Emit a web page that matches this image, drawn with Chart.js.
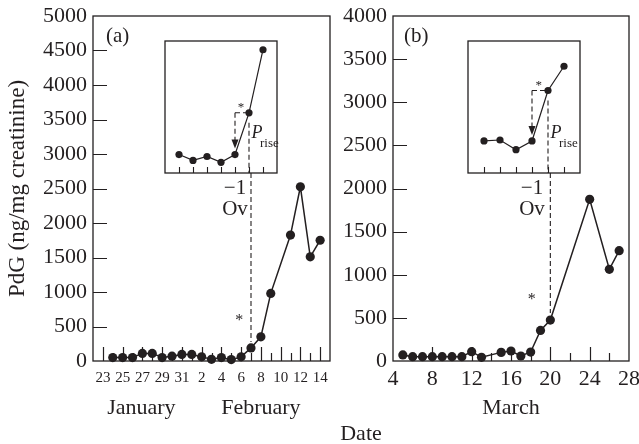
<!DOCTYPE html>
<html>
<head>
<meta charset="utf-8">
<script src="https://cdn.jsdelivr.net/npm/chart.js@4.4.1/dist/chart.umd.min.js"></script>
<style>
  html, body { margin: 0; padding: 0; background: #fff; }
  #wrap { position: relative; width: 639px; height: 444px; }
  canvas { position: absolute; }
</style>
</head>
<body>
<div id="wrap">
  <canvas id="chartA" width="639" height="444" style="left:0;top:0"></canvas>
  <canvas id="chartB" width="639" height="444" style="left:0;top:0"></canvas>
  <canvas id="insetA" width="120" height="190" style="left:161px;top:37px"></canvas>
  <canvas id="insetB" width="120" height="190" style="left:464px;top:37px"></canvas>
</div>
<script>
  const FONT = "'Liberation Serif', 'DejaVu Serif', serif";
  const INK = '#231f20';

  // Panel (a): days counted from 1 January (1 February = 32)
  const daysA = [24, 25, 26, 27, 28, 29, 30, 31, 32, 33, 34, 35, 36, 37, 38, 39, 40, 42, 43, 44, 45];
  const pdgA = [50, 50, 50, 110, 110, 50, 70, 95, 95, 60, 25, 50, 20, 60, 190, 350, 980, 1825, 2525, 1510, 1750];
  const tickDaysA = [23, 25, 27, 29, 31, 33, 35, 37, 39, 41, 43, 45];
  const tickLabelsA = ['23', '25', '27', '29', '31', '2', '4', '6', '8', '10', '12', '14'];
  const monthsA = ['January', 'February'];

  // Panel (b): days of March
  const daysB = [5, 6, 7, 8, 9, 10, 11, 12, 13, 15, 16, 17, 18, 19, 20, 24, 26, 27];
  const pdgB = [70, 50, 50, 50, 50, 50, 50, 108, 43, 100, 116, 58, 104, 355, 475, 1875, 1063, 1279];
  const tickDaysB = [4, 8, 12, 16, 20, 24, 28];
  const monthsB = ['March'];

  // Insets: days relative to the progesterone rise (0), relative PdG level
  const insetDaysA = [-5, -4, -3, -2, -1, 0, 1];
  const insetA = [19, 13, 17, 11, 19, 62, 127];
  const insetDaysB = [-4, -3, -2, -1, 0, 1];
  const insetB = [33, 34, 24, 33, 85, 110];

  const INSET_BOTTOM = 37 + 136;

  function drawFrame(chart) {
    const { ctx, chartArea: a } = chart;
    ctx.save();
    ctx.strokeStyle = INK;
    ctx.lineWidth = 1.3;
    ctx.strokeRect(a.left, a.top, a.right - a.left, a.bottom - a.top);
    ctx.restore();
  }

  // tick marks drawn on the inside of the frame
  function drawTicks(chart, isLong, yTicks) {
    const { ctx, chartArea: a, scales: { x, y } } = chart;
    ctx.save();
    ctx.strokeStyle = INK;
    ctx.lineWidth = 1.2;
    ctx.beginPath();
    x.ticks.forEach(t => {
      if (t.value <= x.min || t.value >= x.max) return;
      const px = Math.round(x.getPixelForValue(t.value)) + 0.5;
      ctx.moveTo(px, a.bottom);
      ctx.lineTo(px, a.bottom - (isLong(t.value) ? 14 : 8));
    });
    if (yTicks) {
      y.ticks.forEach(t => {
        if (t.value <= y.min || t.value >= y.max) return;
        const py = Math.round(y.getPixelForValue(t.value)) + 0.5;
        ctx.moveTo(a.left, py);
        ctx.lineTo(a.left + 14, py);
      });
    }
    ctx.stroke();
    ctx.restore();
  }

  function text(ctx, str, x, y, size, align, style) {
    ctx.save();
    ctx.fillStyle = INK;
    ctx.font = (style || '') + ' ' + size + 'px ' + FONT;
    ctx.textAlign = align || 'center';
    ctx.textBaseline = 'alphabetic';
    ctx.fillText(str, x, y);
    ctx.restore();
  }

  function star(ctx, x, y, size) {
    text(ctx, '*', x, y + size * 0.5, size);
  }

  function dashed(ctx, x1, y1, x2, y2) {
    ctx.save();
    ctx.strokeStyle = INK;
    ctx.lineWidth = 1.1;
    ctx.setLineDash([5, 3]);
    ctx.beginPath();
    ctx.moveTo(x1, y1);
    ctx.lineTo(x2, y2);
    ctx.stroke();
    ctx.restore();
  }

  function mainOptions(cfg) {
    return {
      responsive: false,
      animation: false,
      events: [],
      layout: { padding: cfg.padding },
      plugins: { legend: { display: false }, tooltip: { enabled: false } },
      scales: {
        x: {
          type: 'linear',
          min: cfg.xMin,
          max: cfg.xMax,
          afterBuildTicks: s => {
            const t = [];
            for (let v = cfg.xMin + cfg.step; v < cfg.xMax; v += cfg.step) t.push({ value: v });
            if (cfg.edgeLabels) { t.unshift({ value: cfg.xMin }); t.push({ value: cfg.xMax }); }
            s.ticks = t;
          },
          ticks: {
            autoSkip: false,
            maxRotation: 0,
            color: INK,
            font: { family: FONT, size: cfg.xFont },
            padding: cfg.xPad,
            callback: cfg.xLabel
          },
          grid: { display: false, drawTicks: false },
          border: { display: false },
          afterFit: s => { s.height = 30; s.paddingLeft = 0; s.paddingRight = 0; }
        },
        y: {
          min: 0,
          max: cfg.yMax,
          afterBuildTicks: s => {
            const t = [];
            for (let v = 0; v <= cfg.yMax; v += 500) t.push({ value: v });
            s.ticks = t;
          },
          ticks: {
            color: INK,
            font: { family: FONT, size: 22 },
            padding: 6,
            callback: v => String(v)
          },
          grid: { display: false, drawTicks: false },
          border: { display: false },
          title: cfg.title,
          afterFit: s => { s.width = cfg.yWidth; s.paddingTop = 0; s.paddingBottom = 0; }
        }
      }
    };
  }

  function mainDataset(days, vals) {
    return [{
      data: days.map((d, i) => ({ x: d, y: vals[i] })),
      borderColor: INK,
      backgroundColor: INK,
      borderWidth: 1.5,
      pointRadius: 4.6,
      pointBackgroundColor: INK,
      pointBorderWidth: 0,
      tension: 0,
      clip: false
    }];
  }

  // Panel (a)
  const chartA = new Chart(document.getElementById('chartA'), {
    type: 'line',
    data: { datasets: mainDataset(daysA, pdgA) },
    options: mainOptions({
      padding: { left: 0, top: 16, right: 309, bottom: 53 },
      xMin: 22, xMax: 46, step: 1,
      xFont: 15, xPad: 8,
      xLabel: v => { const i = tickDaysA.indexOf(v); return i >= 0 ? tickLabelsA[i] : ''; },
      yMax: 5000, yWidth: 93,
      title: {
        display: true,
        text: 'PdG (ng/mg creatinine)',
        color: INK,
        font: { family: FONT, size: 23 },
        padding: { top: 4, bottom: 0 }
      }
    }),
    plugins: [{
      id: 'decorA',
      beforeDatasetsDraw(chart) {
        drawFrame(chart);
        drawTicks(chart, v => tickDaysA.includes(v), true);
      },
      afterDatasetsDraw(chart) {
        const { ctx, chartArea: a, scales: { x, y } } = chart;
        text(ctx, '(a)', a.left + 13, a.top + 26, 21, 'left');
        text(ctx, monthsA[0], x.getPixelForValue(26.9), 414, 22);
        text(ctx, monthsA[1], x.getPixelForValue(39), 414, 22);
        const px = x.getPixelForValue(38);
        dashed(ctx, px, INSET_BOTTOM, px, y.getPixelForValue(pdgA[daysA.indexOf(38)]) - 6);
        star(ctx, x.getPixelForValue(36.8), y.getPixelForValue(640), 16);
      }
    }]
  });

  // Panel (b)
  new Chart(document.getElementById('chartB'), {
    type: 'line',
    data: { datasets: mainDataset(daysB, pdgB) },
    options: mainOptions({
      padding: { left: 335, top: 16, right: 10, bottom: 53 },
      xMin: 4, xMax: 28, step: 2, edgeLabels: true,
      xFont: 22, xPad: 5,
      xLabel: v => tickDaysB.includes(v) ? String(v) : '',
      yMax: 4000, yWidth: 58,
      title: { display: false }
    }),
    plugins: [{
      id: 'decorB',
      beforeDatasetsDraw(chart) {
        drawFrame(chart);
        drawTicks(chart, v => tickDaysB.includes(v), true);
      },
      afterDatasetsDraw(chart) {
        const { ctx, chartArea: a, scales: { x, y } } = chart;
        text(ctx, '(b)', a.left + 11, a.top + 26, 21, 'left');
        text(ctx, monthsB[0], x.getPixelForValue(16), 414, 22);
        text(ctx, 'Date', (chartA.chartArea.left + a.right) / 2, 440, 22);
        const px = x.getPixelForValue(20);
        dashed(ctx, px, INSET_BOTTOM, px, y.getPixelForValue(pdgB[daysB.indexOf(20)]) - 7);
        star(ctx, x.getPixelForValue(18.1), y.getPixelForValue(754), 16);
      }
    }]
  });

  function insetChart(id, days, vals, xMin, xMax) {
    return new Chart(document.getElementById(id), {
      type: 'line',
      data: {
        datasets: [{
          data: days.map((d, i) => ({ x: d, y: vals[i] })),
          borderColor: INK,
          backgroundColor: INK,
          borderWidth: 1.2,
          pointRadius: 3.6,
          pointBackgroundColor: INK,
          pointBorderWidth: 0,
          tension: 0
        }]
      },
      options: {
        responsive: false,
        animation: false,
        events: [],
        layout: { padding: 0 },
        plugins: { legend: { display: false }, tooltip: { enabled: false } },
        scales: {
          x: {
            type: 'linear',
            min: xMin,
            max: xMax,
            afterBuildTicks: s => { s.ticks = days.map(v => ({ value: v })); },
            ticks: {
              autoSkip: false,
              maxRotation: 0,
              color: INK,
              font: { family: FONT, size: 21, lineHeight: 1 },
              padding: 5,
              callback: v => v === -1 ? ['\u22121', 'Ov'] : ''
            },
            grid: { display: false, drawTicks: false },
            border: { display: false },
            afterFit: s => { s.height = 54; s.paddingLeft = 0; s.paddingRight = 0; }
          },
          y: { display: false, min: 0, max: 136 }
        }
      },
      plugins: [{
        id: 'insetDecor',
        beforeDraw(chart) {
          const { ctx, chartArea: a } = chart;
          ctx.save();
          ctx.fillStyle = '#fff';
          ctx.fillRect(a.left, a.top, a.right - a.left, a.bottom - a.top);
          ctx.restore();
        },
        beforeDatasetsDraw(chart) {
          const { ctx, chartArea: a, scales: { x } } = chart;
          drawFrame(chart);
          ctx.save();
          ctx.strokeStyle = INK;
          ctx.lineWidth = 1.1;
          ctx.beginPath();
          days.forEach(d => {
            const px = Math.round(x.getPixelForValue(d)) + 0.5;
            ctx.moveTo(px, a.bottom);
            ctx.lineTo(px, a.bottom - 6);
          });
          ctx.stroke();
          ctx.restore();
        },
        afterDatasetsDraw(chart) {
          const { ctx, chartArea: a, scales: { x, y } } = chart;
          const p0x = x.getPixelForValue(0), p1x = x.getPixelForValue(-1);
          const p0y = y.getPixelForValue(vals[days.indexOf(0)]);
          const p1y = y.getPixelForValue(vals[days.indexOf(-1)]);
          dashed(ctx, p1x, p0y, p0x - 3, p0y);
          dashed(ctx, p1x, p0y, p1x, p1y - 14);
          dashed(ctx, p0x, p0y + 10, p0x, a.bottom);
          ctx.save();
          ctx.fillStyle = INK;
          ctx.beginPath();
          ctx.moveTo(p1x - 3.5, p1y - 15);
          ctx.lineTo(p1x + 3.5, p1y - 15);
          ctx.lineTo(p1x, p1y - 6);
          ctx.closePath();
          ctx.fill();
          ctx.restore();
          star(ctx, p1x + (p0x - p1x) * 0.42, p0y - 8, 13);
          text(ctx, 'P', p0x + 2.5, a.top + 97, 18, 'left', 'italic');
          text(ctx, 'rise', p0x + 11, a.top + 106, 13, 'left');
        }
      }]
    });
  }

  insetChart('insetA', insetDaysA, insetA, -6, 2);
  insetChart('insetB', insetDaysB, insetB, -5, 2);
</script>
</body>
</html>
